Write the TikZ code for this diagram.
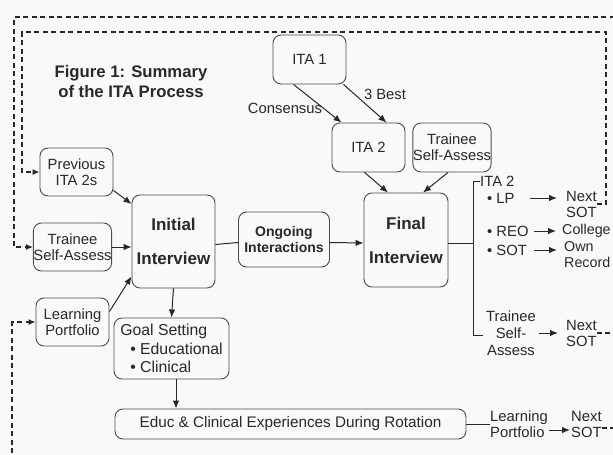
\documentclass[tikz,border=0pt]{standalone}
\usepackage{fontspec}
\setmainfont{Liberation Sans}
\usetikzlibrary{arrows.meta}
\definecolor{ink}{RGB}{40,40,40}
\definecolor{edge}{RGB}{75,75,75}
\definecolor{bg}{RGB}{249,249,250}
\begin{document}
\begin{tikzpicture}[x=1pt,y=-1pt,
  box/.style={draw=edge, line width=0.9pt, rounded corners=8pt, inner sep=0pt, align=center, text=ink, font=\fontsize{14.8}{16}\selectfont},
  big/.style={font=\fontsize{17}{34}\selectfont\bfseries},
  lbl/.style={inner sep=0pt, text=ink, font=\fontsize{14.8}{16}\selectfont, align=left},
  arr/.style={draw=ink, line width=1pt, -{Latex[length=8pt,width=6.5pt]}},
  ln/.style={draw=ink, line width=1pt},
  dsh/.style={draw=ink, line width=1.2pt, dash pattern=on 5pt off 3.5pt},
  dsharr/.style={dsh, -{Latex[length=7pt,width=6pt]}},
]
\fill[bg] (0,0) rectangle (613,455);
\useasboundingbox (0,0) rectangle (613,455);

% title
\node[inner sep=0pt, text=ink, align=center, font=\fontsize{16.7}{20}\selectfont\bfseries] (title) at (131,82) {Figure 1: Summary\\ of the ITA Process};

% boxes
\node[box, minimum width=73pt, minimum height=49pt] (ita1) at (309.5,59.5) {ITA 1};
\node[box, minimum width=73pt, minimum height=49pt] (ita2) at (368.5,147.5) {ITA 2};
\node[box, minimum width=74pt, minimum height=49pt] (tsa2) at (452,147.5) {Trainee\\Self-Assess};
\node[box, big, minimum width=84pt, minimum height=94pt] (final) at (406,240) {Final\\Interview};
\node[box, big, minimum width=83pt, minimum height=93pt] (initial) at (173.5,241.5) {Initial\\Interview};
\node[box, font=\fontsize{14}{15.5}\selectfont\bfseries, minimum width=91pt, minimum height=55pt] (ongoing) at (284,239.5) {Ongoing\\Interactions};
\node[box, minimum width=73pt, minimum height=48pt] (prev) at (76.5,172) {Previous\\ITA 2s};
\node[box, minimum width=73pt, minimum height=48pt] (tsa1) at (72.5,247) {Trainee\\Self-Assess};
\node[box, minimum width=73pt, minimum height=48pt] (lp) at (72.5,322) {Learning\\Portfolio};
\node[box, align=left, font=\fontsize{15.8}{18.5}\selectfont, minimum width=115pt, minimum height=61pt] (goal) at (171.5,348.5) {Goal Setting\\\hspace*{10pt}\textbullet\ Educational\\\hspace*{10pt}\textbullet\ Clinical};
\node[box, font=\fontsize{15.3}{16}\selectfont, minimum width=351pt, minimum height=30pt] (educ) at (290.5,424) {Educ \& Clinical Experiences During Rotation};

% labels
\node[lbl] (cons) at (285,108) {Consensus};
\node[lbl] (best) at (385,94) {3 Best};

% arrows in the upper part
\draw[arr] ([xshift=-16pt]ita1.south) -- ([xshift=-27pt]ita2.north);
\draw[arr] ([xshift=34pt]ita1.south) -- ([xshift=18pt]ita2.north);
\draw[arr] ([xshift=-4pt]ita2.south) -- ([xshift=-18pt]final.north);
\draw[arr] ([xshift=-4pt]tsa2.south) -- ([xshift=17pt]final.north);

% left side
\draw[arr] (prev.south east) ++(0,-6) coordinate (p1) -- (initial.north west |- 0,204);
\draw[arr] (tsa1.east) -- (initial.west |- tsa1.east);
\draw[arr] ([yshift=-14pt]lp.north east) -- ([yshift=12pt]initial.south west);
\draw[arr] (initial.south) -- (goal.north);
\draw[arr] ([xshift=4.5pt]goal.south) -- ([xshift=-114.5pt]educ.north);

% middle
\draw[ln] ([yshift=-3pt]initial.east) -- ([yshift=-3pt]ongoing.west);
\draw[arr] ([yshift=-3pt]ongoing.east) -- ([yshift=-3pt]final.west);

% bracket on the right of Final Interview
\node[lbl, anchor=west] (ita2l) at (480,181) {ITA 2};
\node[lbl, anchor=west] (lpl) at (487,198) {\textbullet\ LP};
\node[lbl, anchor=west] (reo) at (487,231) {\textbullet\ REO};
\node[lbl, anchor=west] (sot) at (487,250) {\textbullet\ SOT};
\node[lbl, align=center, font=\fontsize{14.8}{17}\selectfont] (tsa3) at (511,333) {Trainee\\Self-\\Assess};
\coordinate (bb) at (473,335);
\coordinate (bbe) at (483,335);
\draw[ln] ([yshift=-3pt]final.east) -- ([yshift=-3pt]final.east -| bb);
\draw[ln] (ita2l.west) -| (bb) -- (bbe);

\node[lbl, anchor=west] (nextA) at (566,204) {Next\\SOT};
\node[lbl, anchor=west, font=\fontsize{14.3}{16}\selectfont] (college) at (562,231) {College};
\node[lbl, anchor=west, font=\fontsize{14.3}{16}\selectfont] (own) at (564,255) {Own\\Record};
\node[lbl, anchor=west] (nextB) at (566,333) {Next\\SOT};
\node[lbl, anchor=west] (lpb) at (490,424) {Learning\\Portfolio};
\node[lbl, anchor=west] (nextC) at (571,424) {Next\\SOT};

\draw[arr, shorten <=15pt, shorten >=9pt] (lpl.east) -- (lpl.east -| nextA.west);
\draw[arr, shorten <=5pt, shorten >=6pt] (reo.east) -- (college.west);
\draw[arr, shorten <=7pt, shorten >=7pt] (sot.east) -- (sot.east -| own.west);
\draw[arr, shorten <=3pt, shorten >=8pt] (tsa3.east) -- (nextB.west);
\draw[ln] (educ.east) -- (lpb.west);
\draw[arr, shorten <=1pt, shorten >=1pt] ([yshift=-6pt]lpb.east) -- ([yshift=-6pt]nextC.west);

% dashed feedback loops
\coordinate (inR) at (606,32);
\coordinate (inL) at (22,32);
\draw[dsharr] (nextA.east) -- (nextA.east -| inR) -- (inR) -- (inL) |- (prev.west);

\coordinate (outR) at (640,17);
\coordinate (outL) at (14,17);
\draw[dsh] (nextB.east) -- (nextB.east -| outR) -- (outR);
\draw[dsharr] (outR) -- (outL) |- (tsa1.west);

\coordinate (botR) at (640,428);
\coordinate (botL) at (12,470);
\draw[dsh] ([yshift=-4pt]nextC.east) -- (botR);
\draw[dsharr] (botL) |- (lp.west);
\end{tikzpicture}
\end{document}
